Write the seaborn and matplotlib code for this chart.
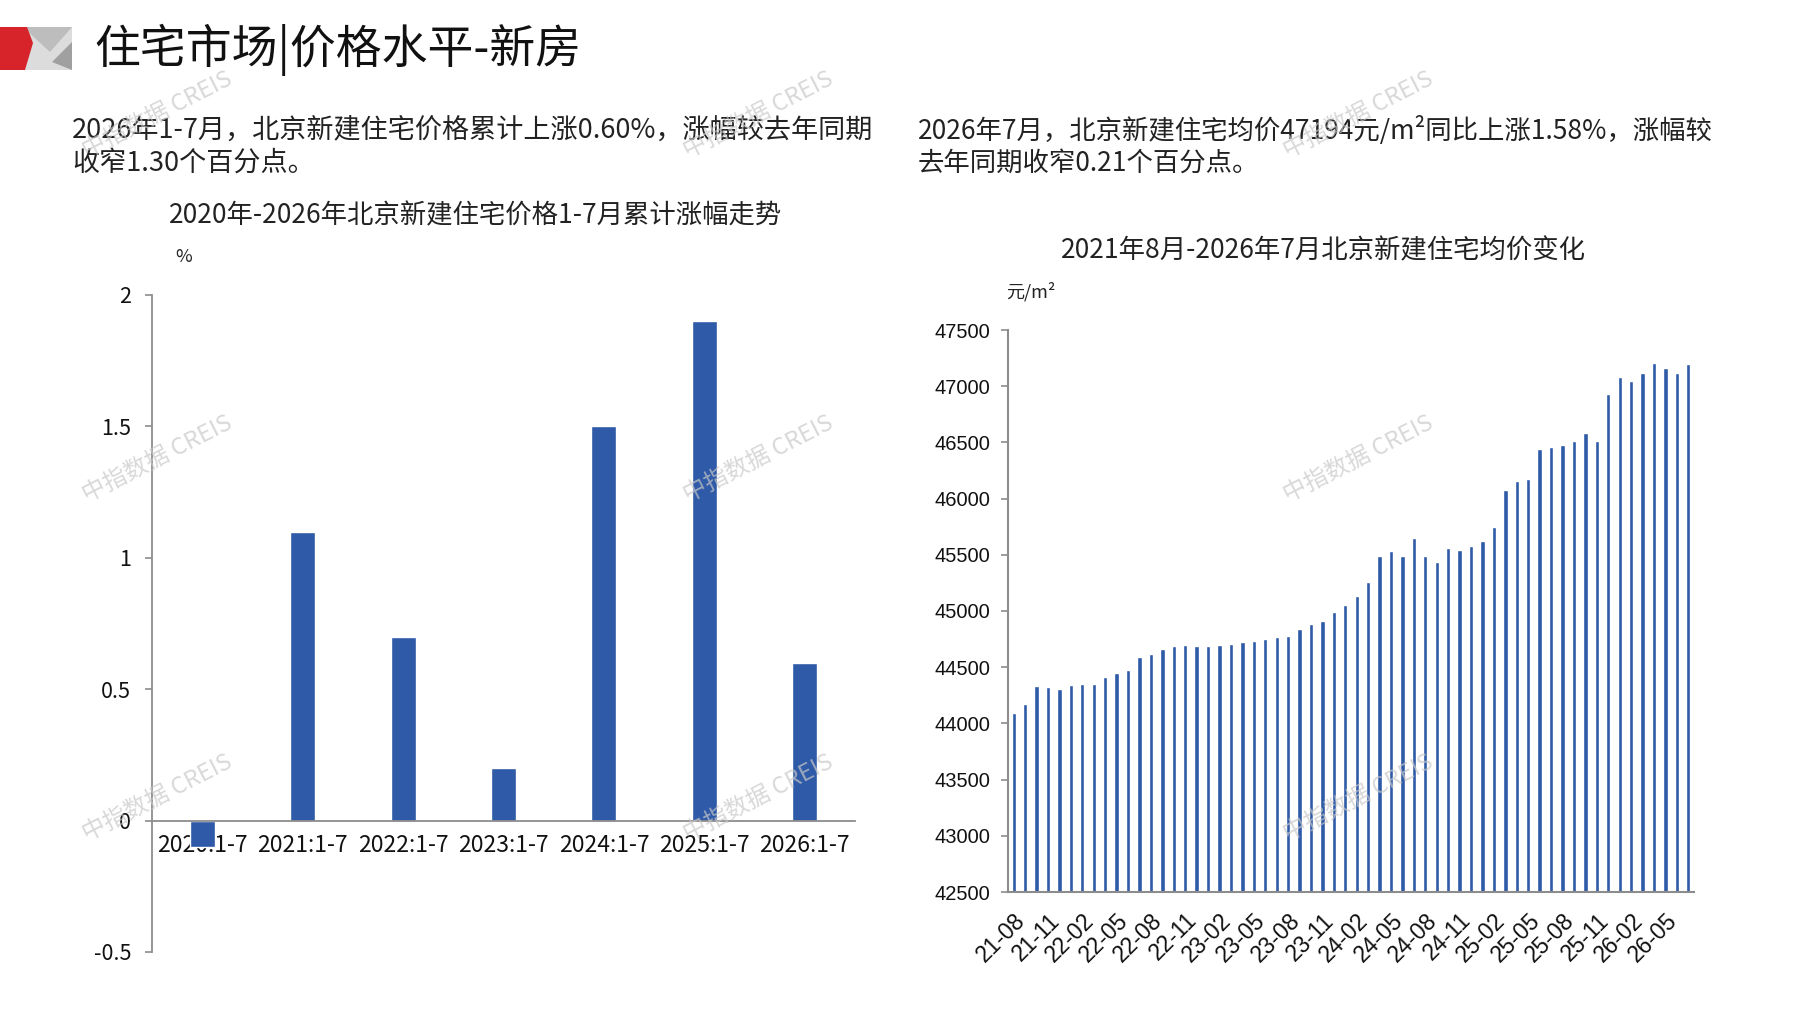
import numpy as np
import pandas as pd
import matplotlib.pyplot as plt
import seaborn as sns
from matplotlib.patches import Polygon

sns.set_theme(style='white')
plt.rcParams['font.family'] = ['Noto Sans CJK SC', 'DejaVu Sans']
plt.rcParams['axes.unicode_minus'] = False

# left chart: cumulative change Jan-Jul, %
periods = ['2020:1-7', '2021:1-7', '2022:1-7', '2023:1-7', '2024:1-7', '2025:1-7', '2026:1-7']
growth = [-0.1, 1.1, 0.7, 0.2, 1.5, 1.9, 0.6]
growth_ticks = [-0.5, 0, 0.5, 1, 1.5, 2]
growth_ticklabels = ['-0.5', '0', '0.5', '1', '1.5', '2']

# right chart: monthly average price, yuan/m2 (2021-08 .. 2026-07)
months = pd.date_range('2021-08-01', '2026-07-01', freq='MS').strftime('%y-%m').tolist()
prices = [44090, 44170, 44330, 44320, 44310, 44340, 44350, 44350, 44410, 44450,
          44475, 44595, 44615, 44660, 44690, 44700, 44685, 44690, 44695, 44710,
          44720, 44735, 44750, 44770, 44780, 44840, 44885, 44910, 44990, 45050,
          45135, 45260, 45490, 45535, 45485, 45650, 45485, 45435, 45560, 45545,
          45575, 45625, 45745, 46075, 46160, 46175, 46445, 46460, 46480, 46510,
          46580, 46510, 46935, 47085, 47050, 47115, 47205, 47165, 47115, 47194]
price_ticks = list(range(42500, 47501, 500))

W, H = 1797, 1010
bar_color = '#2E5AA7'
axis_gray = '#8c8c8c'


def fx(px):
    return px / W


def fy(py):
    return 1 - py / H


fig = plt.figure(figsize=(W / 100, H / 100), dpi=100)
fig.patch.set_facecolor('white')

# header logo
logo = [
    ([(23, 27), (72, 27), (72, 70), (23, 70)], '#dcdcdc'),
    ([(23, 27), (72, 27), (50, 52)], '#bdbdbd'),
    ([(72, 42), (72, 70), (52, 62)], '#a0a0a0'),
    ([(0, 27), (27, 27), (33, 43), (25, 70), (0, 70)], '#d7242b'),
]
for pts, c in logo:
    fig.patches.append(Polygon([(fx(x), fy(y)) for x, y in pts], closed=True,
                               transform=fig.transFigure, facecolor=c, edgecolor='none'))

fig.text(fx(94), fy(50), '住宅市场|价格水平-新房', fontsize=33, va='center', ha='left', color='#111111')

# paragraphs
fig.text(fx(72), fy(130), '2026年1-7月，北京新建住宅价格累计上涨0.60%，涨幅较去年同期',
         fontsize=19.5, va='center', color='#222222')
fig.text(fx(72), fy(163), '收窄1.30个百分点。', fontsize=19.5, va='center', color='#222222')
fig.text(fx(918), fy(130), '2026年7月，北京新建住宅均价47194元/m²同比上涨1.58%，涨幅较',
         fontsize=19, va='center', color='#222222')
fig.text(fx(918), fy(163), '去年同期收窄0.21个百分点。', fontsize=19, va='center', color='#222222')

# chart titles and units
fig.text(fx(476), fy(216), '2020年-2026年北京新建住宅价格1-7月累计涨幅走势',
         fontsize=19, ha='center', va='center', color='#222222')
fig.text(fx(1323), fy(251), '2021年8月-2026年7月北京新建住宅均价变化',
         fontsize=19, ha='center', va='center', color='#222222')
fig.text(fx(184), fy(257), '%', fontsize=13, ha='center', va='center', color='#222222')
fig.text(fx(1031), fy(292), '元/m²', fontsize=13, ha='center', va='center', color='#222222')

# left bar chart
ax1 = fig.add_axes([fx(152), fy(952), fx(703), 657 / H])
sns.barplot(x=periods, y=growth, color=bar_color, saturation=1, width=0.25, ax=ax1)
ax1.set_xlabel('')
ax1.set_ylabel('')
ax1.set_ylim(-0.5, 2)
ax1.set_xlim(-0.5, len(periods) - 0.5)
ax1.set_yticks(growth_ticks)
ax1.set_yticklabels(growth_ticklabels)
for s in ['top', 'right']:
    ax1.spines[s].set_visible(False)
ax1.spines['bottom'].set_position(('data', 0))
for s in ['left', 'bottom']:
    ax1.spines[s].set_color(axis_gray)
    ax1.spines[s].set_linewidth(1.3)
ax1.set_xticks(np.arange(-0.5, len(periods), 1), minor=True)
ax1.tick_params(axis='x', which='major', length=0, pad=10, labelsize=16.5, labelcolor='#111111')
ax1.tick_params(axis='x', which='minor', direction='in', length=6, width=1.2, color=axis_gray)
ax1.tick_params(axis='y', direction='out', length=5, width=1.2, color=axis_gray,
                left=True, labelsize=15.5, labelcolor='#111111', pad=10)
ax1.patch.set_alpha(0)

# right bar chart
ax2 = fig.add_axes([fx(1008), fy(892), fx(686), 562 / H])
sns.barplot(x=months, y=prices, color=bar_color, saturation=1, width=0.38, ax=ax2)
ax2.set_xlabel('')
ax2.set_ylabel('')
ax2.set_ylim(42500, 47500)
ax2.set_xlim(-0.5, len(months) - 0.5)
ax2.set_yticks(price_ticks)
ax2.set_yticklabels([str(v) for v in price_ticks], family=['Liberation Sans', 'DejaVu Sans'])
for s in ['top', 'right']:
    ax2.spines[s].set_visible(False)
for s in ['left', 'bottom']:
    ax2.spines[s].set_color(axis_gray)
    ax2.spines[s].set_linewidth(1.5)
ax2.set_xticks(range(0, len(months), 3))
ax2.set_xticklabels(months[::3], rotation=45, ha='right', va='top', rotation_mode='anchor',
                    family=['Liberation Sans', 'DejaVu Sans'])
ax2.set_xticks(np.arange(-0.5, len(months), 1), minor=True)
ax2.tick_params(axis='x', which='major', length=0, pad=12, labelsize=16.5, labelcolor='#111111')
ax2.tick_params(axis='x', which='minor', direction='in', length=4, width=1.2, color=axis_gray)
ax2.tick_params(axis='y', direction='out', length=5, width=1.2, color=axis_gray,
                left=True, labelsize=14.5, labelcolor='#111111', pad=8)
ax2.patch.set_alpha(0)

# watermarks
for wx in [157, 758, 1358]:
    for wy in [115, 459, 798]:
        fig.text(fx(wx), fy(wy), '中指数据 CREIS', fontsize=17, rotation=27,
                 ha='center', va='center', color='#c8c8c8', alpha=0.7, zorder=10)

fig.savefig('out.png', dpi=100, facecolor='white')
